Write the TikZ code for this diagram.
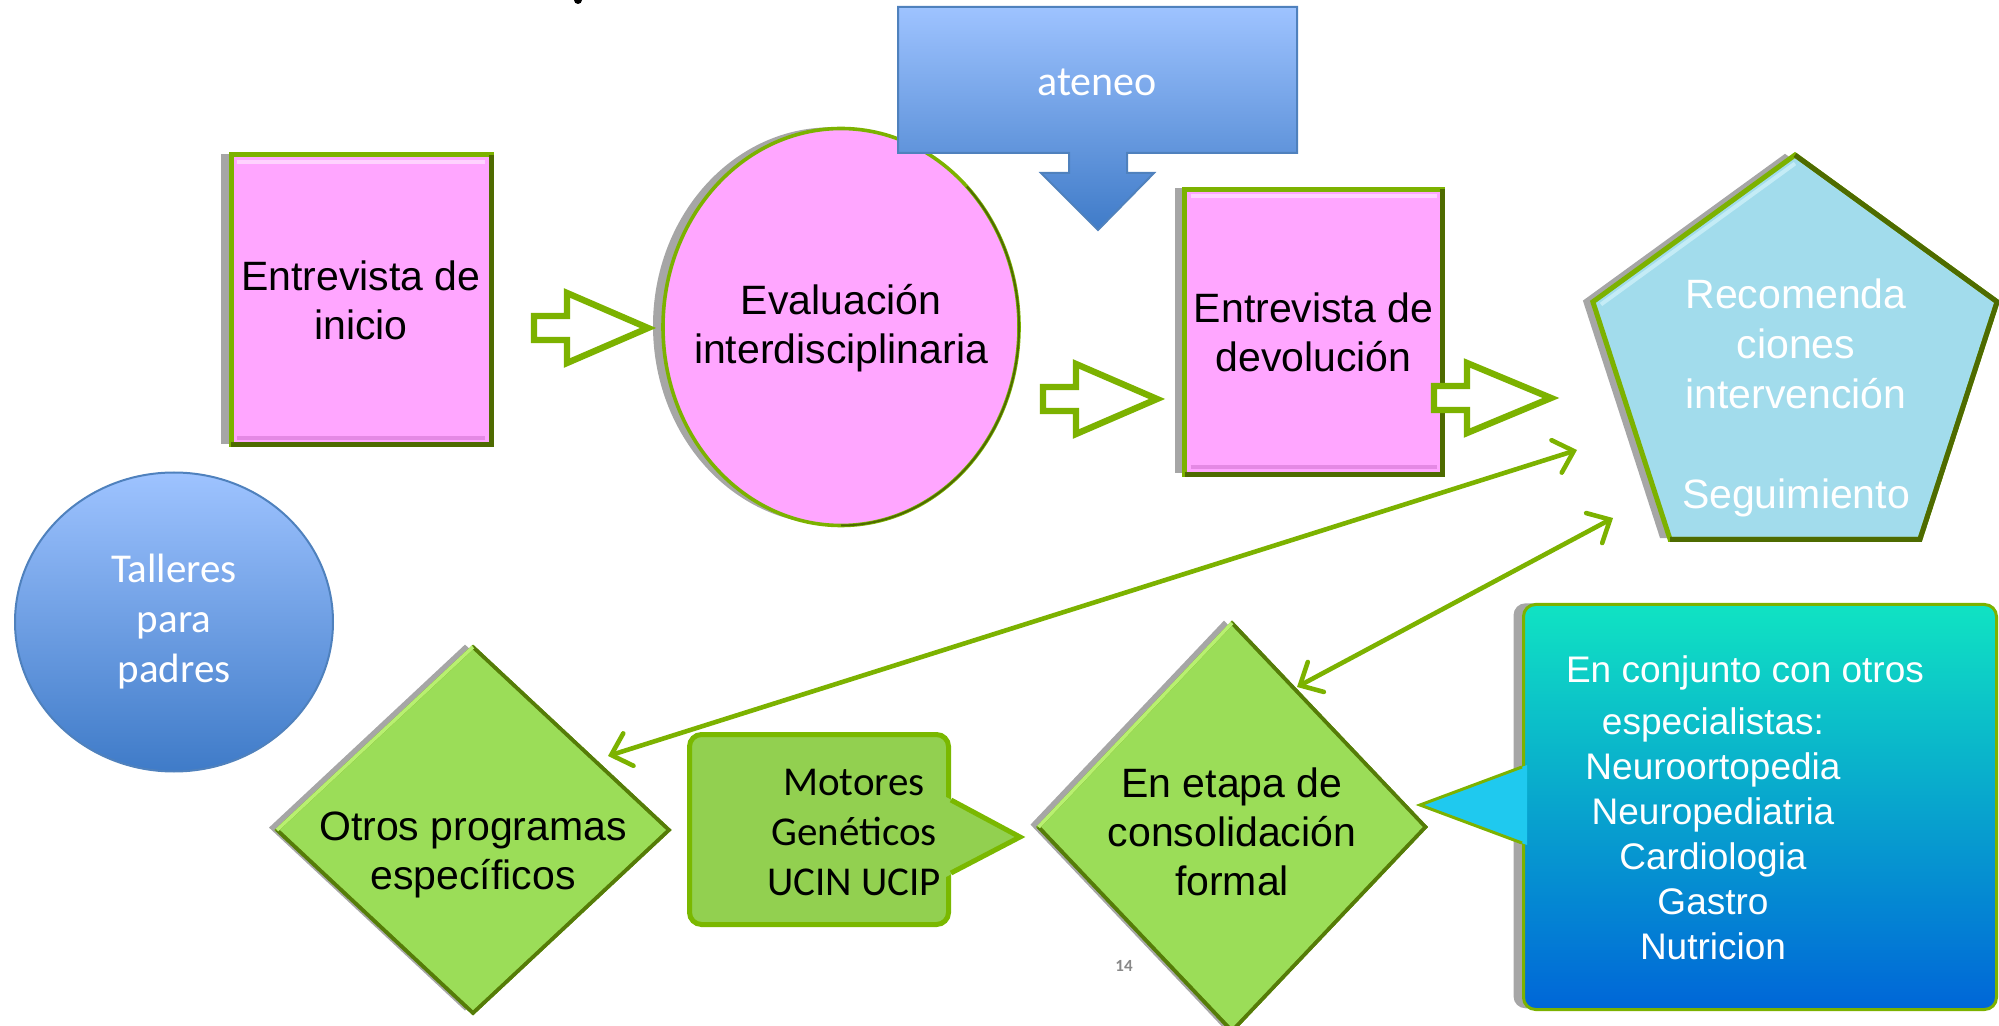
\documentclass[tikz,border=0pt]{standalone}
\usepackage{fontspec}
\setmainfont{Liberation Sans}
\newfontfamily\calibri{Carlito}
\usetikzlibrary{shapes.geometric,shadows,arrows.meta,calc}

\definecolor{pinkfill}{HTML}{FFA6FF}
\definecolor{pinklight}{HTML}{FFD2FF}
\definecolor{pinkdark}{HTML}{E489E4}
\definecolor{grn}{HTML}{7CB200}
\definecolor{olive}{HTML}{4E6B00}
\definecolor{shgray}{HTML}{A6A6A6}
\definecolor{pentfill}{HTML}{A2DCEC}
\definecolor{pentlight}{HTML}{C4ECF6}
\definecolor{diafill}{HTML}{9BDD58}
\definecolor{diadark}{HTML}{6A9A12}
\definecolor{diadeep}{HTML}{557C08}
\definecolor{dialight}{HTML}{B8F070}
\definecolor{calfill}{HTML}{92D050}
\definecolor{calline}{HTML}{7AB800}
\definecolor{blueTop}{HTML}{9EC3FF}
\definecolor{blueBot}{HTML}{3F7BC8}
\definecolor{blueLine}{HTML}{4F81BD}
\definecolor{cTop}{HTML}{10E3C3}
\definecolor{cMid}{HTML}{1FC9EF}
\definecolor{cBot}{HTML}{0066D8}
\definecolor{pgray}{HTML}{898989}

\tikzset{
  mainfont/.style={font=\fontsize{20.5}{24.5}\selectfont},
  calfont/.style={font=\calibri\fontsize{20.5}{25}\selectfont},
  shadowL/.style={drop shadow={shadow xshift=-5pt, shadow yshift=0.6pt, fill=shgray, opacity=1}},
  pinkbox/.style={rectangle, fill=pinkfill, draw=grn, line width=2.5pt, inner sep=0pt, outer sep=0pt, align=center, mainfont, shadowL},
  pinkell/.style={ellipse, fill=pinkfill, draw=grn, line width=1.8pt, inner sep=0pt, outer sep=0pt, shadowL},
  pentbox/.style={regular polygon, regular polygon sides=5, fill=pentfill, draw=grn, line width=2.5pt, inner sep=0pt, outer sep=0pt, shadowL},
  diabox/.style={diamond, fill=diafill, draw=diadark, line width=1.8pt, inner sep=0pt, outer sep=0pt,
     drop shadow={shadow xshift=-4pt, shadow yshift=1.2pt, fill=shgray, opacity=1}},
  txt/.style={align=center, inner sep=0pt, mainfont},
  wtxt/.style={align=center, inner sep=0pt, mainfont, text=white},
  hollow/.style={draw=grn, line width=3.2pt, fill=white, line join=miter},
  dbl/.style={draw=grn, line width=2.3pt, line cap=round,
     {Straight Barb[length=9pt,width=17pt,line cap=round]}-{Straight Barb[length=9pt,width=17pt,line cap=round]}},
  bluecirc/.style={ellipse, top color=blueTop, bottom color=blueBot, draw=blueLine, line width=1pt, inner sep=0pt, outer sep=0pt, align=center, calfont, text=white},
}

\begin{document}
\begin{tikzpicture}[x=0.5pt,y=-0.5pt]
\useasboundingbox (0,0) rectangle (1999,1026);
\clip (0,0) rectangle (1999,1026);

% small remnant of title
\fill (578,0) circle (2pt);

% ---- top row ----
\node[pinkbox, minimum width=130pt, minimum height=145pt] (r1) at (361,300) {Entrevista de\\inicio};
\draw[pinklight, line width=2pt] ($(r1.north west)+(6,7)$) -- ($(r1.north east)+(-6,7)$);
\draw[pinkdark, line width=2pt] ($(r1.south west)+(6,-7)$) -- ($(r1.south east)+(-6,-7)$);
\draw[olive, line width=2.5pt] (r1.north east) -- (r1.south east) -- (r1.south west);

\node[pinkell, minimum width=178pt, minimum height=198.5pt] (ev) at (841,327) {};
\draw[olive, line width=1pt] (ev.north east) arc[start angle=45, end angle=-90, x radius=89pt, y radius=99.25pt];
\node[txt] (evt) at (841,328) {Evaluación\\interdisciplinaria};

% ateneo callout
\path[top color=blueTop, bottom color=blueBot, draw=blueLine, line width=1pt]
  (898,7) -- (1297,7) -- (1297,153) -- (1127,153) -- (1127,173) -- (1154,173) -- (1098,230)
  -- (1041,173) -- (1069,173) -- (1069,153) -- (898,153) -- cycle;
\node[text=white, font=\calibri\fontsize{21}{25}\selectfont, inner sep=0pt] (at) at (1097,82) {ateneo};

\node[pinkbox, minimum width=129pt, minimum height=142.5pt] (r3) at (1313.5,332) {Entrevista de\\devolución};
\draw[pinklight, line width=2pt] ($(r3.north west)+(6,7)$) -- ($(r3.north east)+(-6,7)$);
\draw[pinkdark, line width=2pt] ($(r3.south west)+(6,-7)$) -- ($(r3.south east)+(-6,-7)$);
\draw[olive, line width=2.5pt] (r3.north east) -- (r3.south east) -- (r3.south west);

\node[pentbox, minimum size=212.5pt] (pent) at (1795,367.5) {};
\draw[pentlight, line width=2pt] ($(pent.corner 2)!0.04!(pent.center)$) -- ($(pent.corner 1)!0.04!(pent.center)$);
\draw[olive, line width=2.5pt] (pent.corner 1) -- (pent.corner 5) -- (pent.corner 4) -- (pent.corner 3);
\node[wtxt, font=\fontsize{20.5}{25}\selectfont] (pentt) at (1796,398) {Recomenda\\ciones\\intervención\\[25pt]Seguimiento};

% hollow block arrows
\draw[hollow] (534,328) ++(0,-12) -- ++(33,0) -- ++(0,-23) -- ++(81,35) -- ++(-81,35) -- ++(0,-23) -- ++(-33,0) -- cycle;
\draw[hollow] (1043,399) ++(0,-12) -- ++(33,0) -- ++(0,-23) -- ++(81,35) -- ++(-81,35) -- ++(0,-23) -- ++(-33,0) -- cycle;
\draw[hollow] (1434,398) ++(0,-12) -- ++(33,0) -- ++(0,-23) -- ++(84,35) -- ++(-84,35) -- ++(0,-23) -- ++(-33,0) -- cycle;

% ---- left circle ----
\node[bluecirc, minimum width=159pt, minimum height=149.5pt] (tal) at (174,622) {Talleres\\para\\padres};

% ---- bottom row ----
\node[diabox, minimum width=196pt, minimum height=183pt] (otros) at (473,830) {};
\draw[diadeep, line width=1.8pt] (otros.north) -- (otros.east) -- (otros.south) -- (otros.west);
\draw[dialight, line width=1.8pt] (otros.west) -- (otros.north);
\node[txt] (otrost) at (473,855) {Otros programas\\específicos};

\node[rectangle, rounded corners=6pt, fill=calfill, draw=calline, line width=2.5pt, minimum width=129.5pt, minimum height=95pt, inner sep=0pt, outer sep=0pt] (mot) at (819,829.5) {};
\fill[calfill] (946,797) -- (1020,837) -- (946,877) -- cycle;
\draw[calline, line width=2.5pt, line join=miter] (951,800) -- (1020,837) -- (951,873);
\node[calfont, align=center, inner sep=0pt] (mott) at (854,832) {Motores\\Genéticos\\UCIN UCIP};

\node[diabox, minimum width=193.5pt, minimum height=204pt] (cons) at (1232,827) {};
\draw[diadeep, line width=1.8pt] (cons.north) -- (cons.east) -- (cons.south) -- (cons.west);
\draw[dialight, line width=1.8pt] (cons.west) -- (cons.north);
\node[txt] (const) at (1232,832) {En etapa de\\consolidación\\formal};

\node[font=\calibri\bfseries\fontsize{8.5}{10}\selectfont, text=pgray, inner sep=0pt] (pg) at (1124,966) {14};

% big specialist callout
\node[rectangle, rounded corners=6pt, top color=cTop, middle color=cMid, bottom color=cBot, draw=grn, line width=1.5pt,
      minimum width=236.5pt, minimum height=202.5pt, inner sep=0pt, outer sep=0pt, shadowL] (esp) at (1760,807) {};
\fill[cMid] (1527,765) -- (1420,805) -- (1527,845) -- cycle;
\draw[grn, line width=1.5pt, line join=miter] (1522,767) -- (1420,805) -- (1522,843);
\node[wtxt, font=\fontsize{18.5}{22.5}\selectfont] (espt) at (1713,808)
  {\hspace*{32pt}En conjunto con otros\\[3.5pt]especialistas:\\Neuroortopedia\\Neuropediatria\\Cardiologia\\Gastro\\Nutricion};

% ---- double arrows ----
\draw[dbl] ($(otros.center)+(135,-74)$) -- ($(pent.center)+(-218,82.5)$);
\draw[dbl] ($(cons.center)+(65,-140)$) -- ($(pent.center)+(-182,150.5)$);

\end{tikzpicture}
\end{document}
